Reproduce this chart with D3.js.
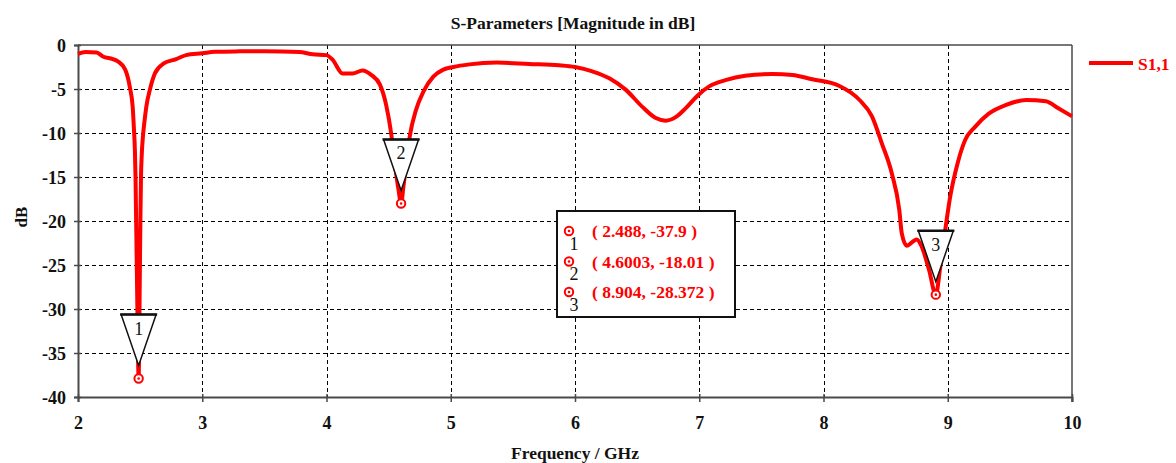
<!DOCTYPE html>
<html>
<head>
<meta charset="utf-8">
<script src="https://cdn.jsdelivr.net/npm/d3@7/dist/d3.min.js"></script>
<style>
  html, body { margin: 0; padding: 0; background: #fff; }
  svg { display: block; }
  text { font-family: "Liberation Serif", "Times New Roman", serif; }
</style>
</head>
<body>
<svg id="chart" width="1176" height="463"></svg>
<script>
// ---- data ----
const freqGHz = [2.0, 2.06, 2.15, 2.2, 2.28, 2.32, 2.38, 2.42, 2.44, 2.45, 2.458, 2.463, 2.467, 2.472, 2.478, 2.488,
  2.495, 2.499, 2.503, 2.507, 2.513, 2.522, 2.535, 2.55, 2.58, 2.62, 2.69, 2.79, 2.87, 3.0, 3.1, 3.3, 3.5, 3.78, 3.89,
  4.0, 4.05, 4.13, 4.21, 4.29, 4.36, 4.43, 4.48, 4.52, 4.55, 4.58, 4.6003, 4.62, 4.65, 4.67, 4.72, 4.78, 4.86, 4.94,
  5.02, 5.15, 5.37, 5.63, 5.87, 6.0, 6.14, 6.28, 6.41, 6.54, 6.65, 6.73, 6.81, 6.89, 6.99, 7.08, 7.21, 7.37, 7.59,
  7.75, 7.91, 8.12, 8.29, 8.39, 8.47, 8.55, 8.61, 8.63, 8.67, 8.75, 8.79, 8.85, 8.904, 8.94, 8.98, 9.02, 9.08, 9.14,
  9.22, 9.33, 9.47, 9.63, 9.79, 9.89, 10.0];
const s11dB = [-1.0, -0.8, -0.85, -1.3, -1.6, -1.85, -2.8, -5.0, -7.0, -9.5, -12, -15, -19, -24, -30, -37.9,
  -30, -24, -19, -15, -12.5, -10.5, -8.7, -7.0, -5.0, -3.2, -2.1, -1.6, -1.15, -0.95, -0.78, -0.72, -0.7, -0.8, -1.05,
  -1.15, -1.7, -3.25, -3.25, -2.9, -3.4, -4.5, -6.8, -10, -13.5, -16.5, -18.01, -16, -12.5, -10.4, -7.4, -5.3, -3.6, -2.8,
  -2.5, -2.2, -2.0, -2.15, -2.3, -2.5, -3.0, -3.8, -5.1, -7.0, -8.3, -8.6, -8.2, -7.2, -5.7, -4.7, -4.0, -3.5, -3.3,
  -3.4, -3.9, -4.6, -6.25, -8.1, -11.2, -14.6, -18.75, -21.4, -22.8, -22.1, -22.9, -25.6, -28.372, -25.2, -21, -17.2, -13.4, -10.8,
  -9.3, -7.8, -6.8, -6.25, -6.4, -7.2, -8.1];
const markerIds = ["1", "2", "3"];
const markerFreq = [2.488, 4.6003, 8.904];
const markerDb = [-37.9, -18.01, -28.372];
const markerText = ["( 2.488, -37.9 )", "( 4.6003, -18.01 )", "( 8.904, -28.372 )"];
const xTicks = [2, 3, 4, 5, 6, 7, 8, 9, 10];
const yTicks = [0, -5, -10, -15, -20, -25, -30, -35, -40];
const seriesName = "S1,1";

// ---- layout ----
const svg = d3.select("#chart");
const L = 78, T = 45, R = 1072, B = 397;
const x = d3.scaleLinear().domain([2, 10]).range([L, R]);
const y = d3.scaleLinear().domain([-40, 0]).range([B, T]);
const red = "#ff0000";
const axisCol = "#4a4a4a";
const fmt = d => String(d);

// title
svg.append("text").attr("x", 573).attr("y", 29).attr("text-anchor", "middle")
  .attr("font-size", 17.5).attr("font-weight", "bold").attr("fill", "#111")
  .text("S-Parameters [Magnitude in dB]");

// grid
const grid = svg.append("g").attr("shape-rendering", "crispEdges");
grid.selectAll("line.v").data(xTicks.filter(d => d > 2 && d < 10)).join("line")
  .attr("x1", d => Math.round(x(d)) + 0.5).attr("x2", d => Math.round(x(d)) + 0.5).attr("y1", T).attr("y2", B)
  .attr("stroke", "#000").attr("stroke-width", 1).attr("stroke-dasharray", "4,3");
grid.selectAll("line.h").data(yTicks.filter(d => d < 0 && d > -40)).join("line")
  .attr("x1", L).attr("x2", R).attr("y1", d => Math.round(y(d)) + 0.5).attr("y2", d => Math.round(y(d)) + 0.5)
  .attr("stroke", "#000").attr("stroke-width", 1).attr("stroke-dasharray", "4,3");

// axes via d3
const xAxis = svg.append("g").attr("transform", `translate(0,${B})`)
  .call(d3.axisBottom(x).tickValues(xTicks).tickSize(5).tickFormat(fmt));
xAxis.select(".domain").attr("stroke", axisCol).attr("stroke-width", 2);
xAxis.selectAll(".tick line").attr("stroke", axisCol).attr("stroke-width", 1.5).attr("y1", -3);
xAxis.selectAll(".tick text").attr("y", 19).attr("dy", "0.71em")
  .attr("font-size", 18).attr("font-weight", "bold").attr("fill", "#111")
  .attr("font-family", "Liberation Serif, serif");

const yAxis = svg.append("g").attr("transform", `translate(${L},0)`)
  .call(d3.axisLeft(y).tickValues(yTicks).tickSize(4).tickFormat(fmt));
yAxis.select(".domain").attr("stroke", axisCol).attr("stroke-width", 2);
yAxis.selectAll(".tick line").attr("stroke", axisCol).attr("stroke-width", 1.5).attr("x2", -4).attr("x1", 3);
yAxis.selectAll(".tick text").attr("x", -12).attr("dy", "0.34em")
  .attr("font-size", 18).attr("font-weight", "bold").attr("fill", "#111")
  .attr("font-family", "Liberation Serif, serif");

// top and right frame
svg.append("line").attr("x1", L).attr("x2", R).attr("y1", T).attr("y2", T)
  .attr("stroke", axisCol).attr("stroke-width", 1.5);
svg.append("line").attr("x1", R).attr("x2", R).attr("y1", T).attr("y2", B + 5)
  .attr("stroke", axisCol).attr("stroke-width", 1.5);

// axis titles
svg.append("text").attr("x", 575).attr("y", 459).attr("text-anchor", "middle")
  .attr("font-size", 17.5).attr("font-weight", "bold").attr("fill", "#111")
  .text("Frequency / GHz");
svg.append("text").attr("transform", "translate(27,217) rotate(-90)").attr("text-anchor", "middle")
  .attr("font-size", 17).attr("font-weight", "bold").attr("fill", "#111")
  .text("dB");

// curve
const pts = freqGHz.map((f, i) => [f, s11dB[i]]);
const line = d3.line().x(d => x(d[0])).y(d => y(d[1])).curve(d3.curveMonotoneX);
svg.append("path").datum(pts).attr("d", line)
  .attr("fill", "none").attr("stroke", red).attr("stroke-width", 4).attr("stroke-linejoin", "round");

// marker triangles
const mk = markerIds.map((id, i) => ({ id, f: markerFreq[i], v: markerDb[i], t: markerText[i] }));
const tri = svg.append("g");
mk.forEach(m => {
  const mx = x(m.f), my = y(m.v);
  const apexY = my - 13, topY = my - 64, hw = 17.5;
  tri.append("path")
    .attr("d", `M${mx - hw},${topY} L${mx + hw},${topY} L${mx},${apexY} Z`)
    .attr("fill", "#fff").attr("stroke", "#111").attr("stroke-width", 1.5).attr("stroke-linejoin", "miter");
  tri.append("line").attr("x1", mx - hw - 1).attr("x2", mx + hw + 1).attr("y1", topY).attr("y2", topY)
    .attr("stroke", "#111").attr("stroke-width", 2.5);
  tri.append("text").attr("x", mx).attr("y", topY + 20).attr("text-anchor", "middle")
    .attr("font-size", 18).attr("fill", "#111").text(m.id);
});

// marker circles
function ring(g, cx, cy) {
  g.append("circle").attr("cx", cx).attr("cy", cy).attr("r", 4.2)
    .attr("fill", "#fff").attr("stroke", red).attr("stroke-width", 2);
  g.append("circle").attr("cx", cx).attr("cy", cy).attr("r", 1.3).attr("fill", red);
}
mk.forEach(m => ring(svg, x(m.f), y(m.v)));

// info box
const box = svg.append("g");
box.append("rect").attr("x", 557).attr("y", 211).attr("width", 178).attr("height", 106)
  .attr("fill", "#fff").attr("stroke", "#111").attr("stroke-width", 2);
mk.forEach((m, i) => {
  const cy = 231 + i * 30.5;
  ring(box, 569, cy);
  box.append("text").attr("x", 574).attr("y", cy + 18.5).attr("text-anchor", "middle")
    .attr("font-size", 18).attr("fill", "#111").text(m.id);
  box.append("text").attr("x", 592).attr("y", cy + 6).attr("font-size", 17.5)
    .attr("font-weight", "bold").attr("fill", red).text(m.t);
});

// legend
svg.append("line").attr("x1", 1089).attr("x2", 1133).attr("y1", 63).attr("y2", 63)
  .attr("stroke", red).attr("stroke-width", 4);
svg.append("text").attr("x", 1138).attr("y", 70).attr("font-size", 17.5)
  .attr("font-weight", "bold").attr("fill", red).text(seriesName);
</script>
</body>
</html>
